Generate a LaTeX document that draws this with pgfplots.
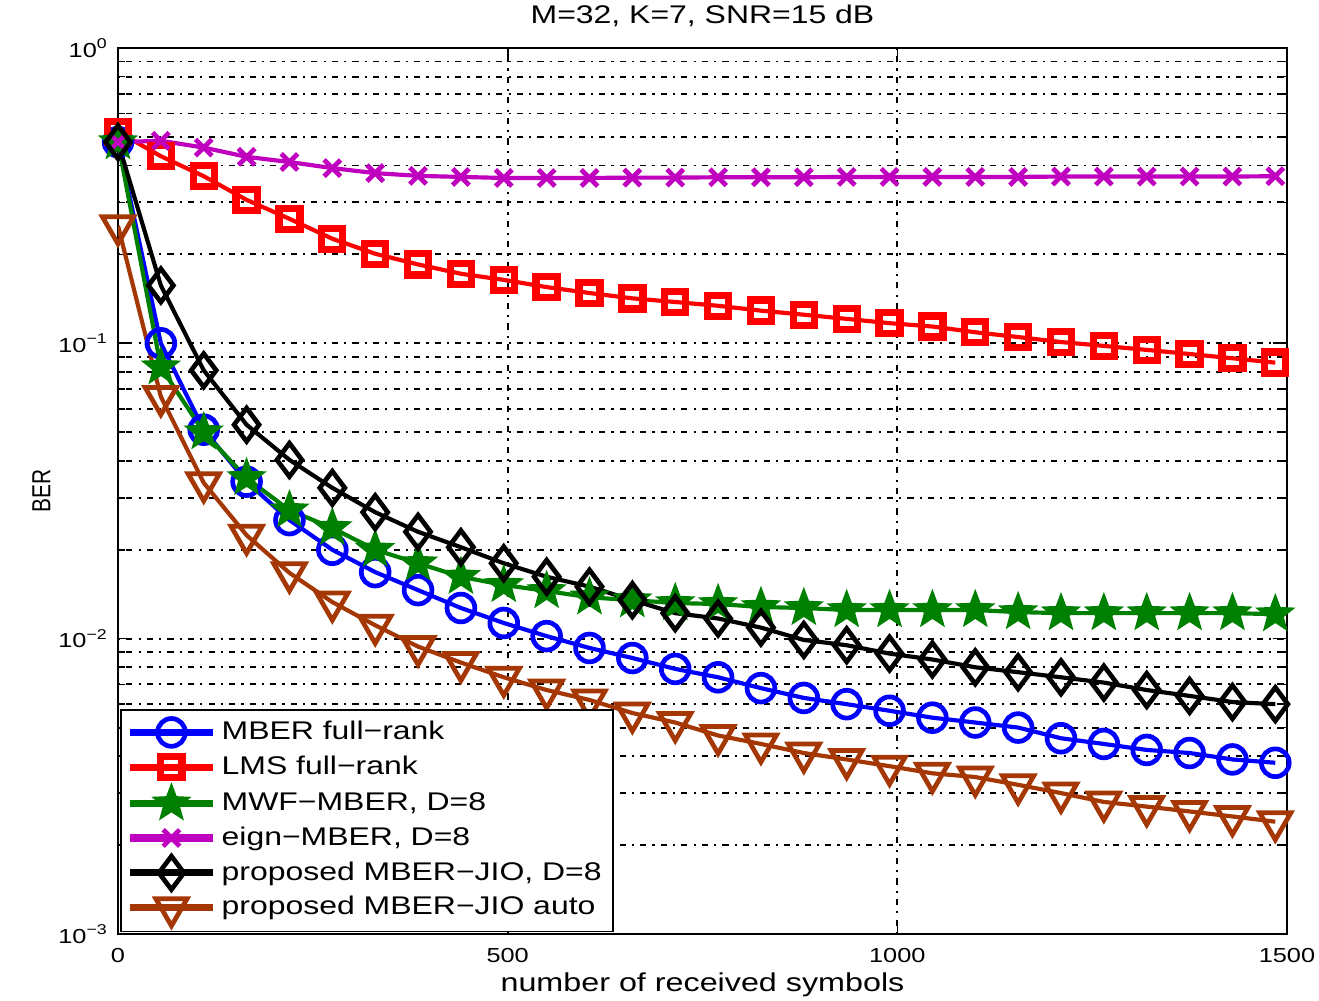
\documentclass[border=0pt]{standalone}
\usepackage{pgfplots}
\pgfplotsset{compat=1.18}
\usepackage{fontspec}
\setmainfont{Liberation Sans}[FakeStretch=1.25]
\newfontfamily\narrowfont{Liberation Sans}[FakeStretch=0.8]
\usetikzlibrary{plotmarks}
\definecolor{mblue}{rgb}{0,0,1}
\definecolor{mred}{rgb}{1,0,0}
\definecolor{mgreen}{rgb}{0,0.5,0}
\definecolor{mmag}{rgb}{0.75,0,0.75}
\definecolor{mbrown}{RGB}{165,55,5}
\pgfdeclareplotmark{pentastar}{%
  \pgfpathmoveto{\pgfqpointpolar{90}{\pgfplotmarksize}}%
  \pgfpathlineto{\pgfqpointpolar{126}{0.42\pgfplotmarksize}}%
  \pgfpathlineto{\pgfqpointpolar{162}{\pgfplotmarksize}}%
  \pgfpathlineto{\pgfqpointpolar{198}{0.42\pgfplotmarksize}}%
  \pgfpathlineto{\pgfqpointpolar{234}{\pgfplotmarksize}}%
  \pgfpathlineto{\pgfqpointpolar{270}{0.42\pgfplotmarksize}}%
  \pgfpathlineto{\pgfqpointpolar{306}{\pgfplotmarksize}}%
  \pgfpathlineto{\pgfqpointpolar{342}{0.42\pgfplotmarksize}}%
  \pgfpathlineto{\pgfqpointpolar{18}{\pgfplotmarksize}}%
  \pgfpathlineto{\pgfqpointpolar{54}{0.42\pgfplotmarksize}}%
  \pgfpathclose
  \pgfusepathqfillstroke
}
\begin{document}
\begin{tikzpicture}
\path[use as bounding box] (0,0) rectangle (474.84pt,360.36pt);
\begin{axis}[
  at={(42.48pt,24.12pt)}, anchor=south west,
  scale only axis, width=420.84pt, height=318.96pt,
  xmin=0, xmax=1500, ymode=log, ymin=1e-3, ymax=1,
  xtick={0,500,1000,1500},
  ytick={1e-3,1e-2,1e-1,1},
  yticklabels={10\textsuperscript{−3},10\textsuperscript{−2},10\textsuperscript{−1},10\textsuperscript{0}},
  /pgf/number format/assume math mode=true,
  /pgf/number format/set thousands separator={},
  tick label style={font=\fontsize{7.3}{9}\selectfont},
  xticklabel style={yshift=-1.5pt},
  tick align=inside,
  major tick length=5pt, minor tick length=2.5pt,
  axis line style={line width=0.8pt},
  every tick/.style={black, line width=0.6pt},
  xmajorgrids, ymajorgrids, yminorgrids,
  major grid style={black, line width=0.7pt, dash pattern=on 0.8pt off 2.2pt on 2.2pt off 2.2pt},
  minor grid style={black, line width=0.7pt, dash pattern=on 0.8pt off 2.2pt on 2.2pt off 2.2pt},
  title={M=32, K=7, SNR=15 dB},
  title style={font=\fontsize{9.2}{11}\selectfont, yshift=-2pt},
  xlabel={number of received symbols},
  ylabel={\narrowfont BER},
  xlabel style={font=\fontsize{9.3}{11}\selectfont, yshift=3pt},
  ylabel style={font=\fontsize{9.4}{11}\selectfont, yshift=-4pt},
  legend cell align=left,
  legend style={at={(rel axis cs:0.002,0.002)}, anchor=south west,
    font=\fontsize{9.2}{11}\selectfont, draw=black, line width=0.6pt,
    inner sep=2pt, row sep=0.4pt},
  legend image code/.code={\draw[line width=2.6pt, mark repeat=2,mark phase=2] plot coordinates {(0cm,0cm) (0.52cm,0cm) (1.04cm,0cm)};},
  every axis plot/.append style={line width=1.5pt},
]
\addplot[mblue, mark=o, mark size=5pt, mark options={line width=1.7pt}] coordinates {
(0,0.48)(55,0.100)(110,0.051)(165,0.034)(220,0.0252)(275,0.020)(330,0.0168)(385,0.0146)(440,0.0127)(495,0.0113)(550,0.0102)(605,0.0093)(660,0.0086)(715,0.0079)(770,0.0074)(825,0.0068)(880,0.0063)(935,0.0060)(990,0.0057)(1045,0.0054)(1100,0.0052)(1155,0.0050)(1210,0.0046)(1265,0.0044)(1320,0.0042)(1375,0.0041)(1430,0.0039)(1485,0.0038)};
\addlegendentry{MBER full−rank}
\addplot[mred, mark=square, mark size=3.8pt, mark options={line width=2.6pt}] coordinates {
(0,0.52)(55,0.43)(110,0.368)(165,0.306)(220,0.264)(275,0.226)(330,0.201)(385,0.185)(440,0.172)(495,0.164)(550,0.155)(605,0.148)(660,0.142)(715,0.138)(770,0.134)(825,0.129)(880,0.125)(935,0.121)(990,0.117)(1045,0.114)(1100,0.109)(1155,0.105)(1210,0.101)(1265,0.098)(1320,0.095)(1375,0.092)(1430,0.089)(1485,0.086)};
\addlegendentry{LMS full−rank}
\addplot[mgreen, mark=pentastar, mark size=6.5pt, mark options={line width=0.8pt, fill=mgreen}] coordinates {
(0,0.48)(55,0.083)(110,0.050)(165,0.035)(220,0.0272)(275,0.0237)(330,0.020)(385,0.018)(440,0.0162)(495,0.0152)(550,0.0145)(605,0.0138)(660,0.0135)(715,0.0132)(770,0.0131)(825,0.0128)(880,0.0127)(935,0.0125)(990,0.0125)(1045,0.0125)(1100,0.0125)(1155,0.0123)(1210,0.0122)(1265,0.0122)(1320,0.0122)(1375,0.0122)(1430,0.0122)(1485,0.0121)};
\addlegendentry{MWF−MBER, D=8}
\addplot[mmag, mark=x, mark size=4.2pt, mark options={line width=1.7pt}] coordinates {
(0,0.48)(55,0.485)(110,0.46)(165,0.428)(220,0.411)(275,0.392)(330,0.377)(385,0.369)(440,0.366)(495,0.363)(550,0.363)(605,0.363)(660,0.364)(715,0.364)(770,0.365)(825,0.365)(880,0.365)(935,0.366)(990,0.366)(1045,0.366)(1100,0.366)(1155,0.366)(1210,0.367)(1265,0.367)(1320,0.367)(1375,0.367)(1430,0.367)(1485,0.368)};
\addlegendentry{eign−MBER, D=8}
\addplot[black, mark=diamond, mark size=6pt, mark options={line width=1.7pt}] coordinates {
(0,0.48)(55,0.157)(110,0.081)(165,0.053)(220,0.0403)(275,0.0324)(330,0.0268)(385,0.023)(440,0.0204)(495,0.018)(550,0.0162)(605,0.0150)(660,0.0135)(715,0.0122)(770,0.0117)(825,0.0109)(880,0.0099)(935,0.0095)(990,0.0089)(1045,0.0085)(1100,0.0080)(1155,0.0077)(1210,0.0074)(1265,0.0071)(1320,0.0067)(1375,0.0064)(1430,0.0061)(1485,0.0060)};
\addlegendentry{proposed MBER−JIO, D=8}
\addplot[mbrown, mark=triangle, mark size=6.5pt, mark options={line width=1.7pt, rotate=180}] coordinates {
(0,0.25)(55,0.066)(110,0.0337)(165,0.0224)(220,0.0167)(275,0.0133)(330,0.0111)(385,0.0094)(440,0.0083)(495,0.0074)(550,0.0067)(605,0.0062)(660,0.0056)(715,0.0052)(770,0.0047)(825,0.0044)(880,0.0041)(935,0.0039)(990,0.0037)(1045,0.0035)(1100,0.0034)(1155,0.0032)(1210,0.0030)(1265,0.0028)(1320,0.0027)(1375,0.0026)(1430,0.0025)(1485,0.0024)};
\addlegendentry{proposed MBER−JIO auto}
\end{axis}
\end{tikzpicture}
\end{document}
